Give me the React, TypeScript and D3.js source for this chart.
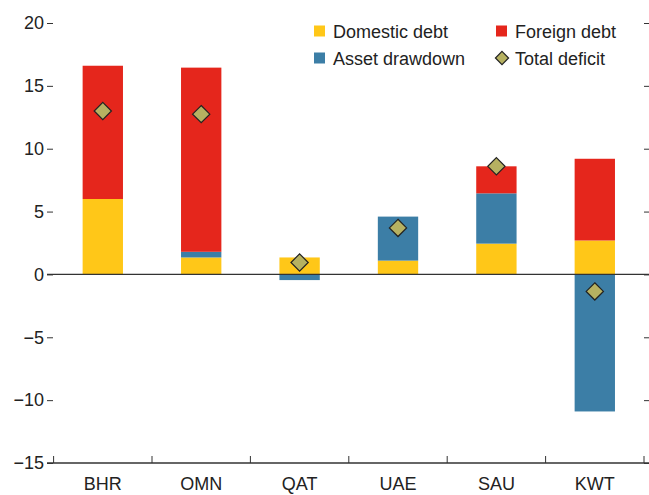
import * as d3 from "d3";
import React, { useEffect, useRef } from "react";

const countries = ["BHR", "OMN", "QAT", "UAE", "SAU", "KWT"];
const domesticDebt = [6.0, 1.35, 1.35, 1.1, 2.45, 2.7];
const assetDrawdown = [0, 0.45, -0.45, 3.5, 4.0, -10.9];
const foreignDebt = [10.6, 14.65, 0, 0, 2.15, 6.5];
const totalDeficit = [13.0, 12.75, 0.95, 3.7, 8.6, -1.35];
const yTicks = [-15, -10, -5, 0, 5, 10, 15, 20];

const W = 649;
const H = 495;
const FONT = "'Liberation Sans', Arial, sans-serif";
const COLORS = { dom: "#FFC718", asset: "#3C7EA6", foreign: "#E5261C", diamond: "#B6B161" };

const App = () => {
  const ref = useRef<HTMLDivElement>(null);

  useEffect(() => {
    const x = d3.scaleBand().domain(countries).range([53.6, 644]).paddingInner(0.59).paddingOuter(0.295);
    const xb = d3.scaleBand().domain(countries).range([53.6, 644]);
    const y = d3.scaleLinear().domain([-15, 20]).range([463, 23]);

    const svg = d3.create("svg")
      .attr("width", W)
      .attr("height", H)
      .style("position", "absolute")
      .style("left", "0px")
      .style("top", "0px")
      .style("font-family", FONT);

    // stacked bars: positives stack up, negatives stack down
    const series = [
      { key: "dom", vals: domesticDebt },
      { key: "asset", vals: assetDrawdown },
      { key: "foreign", vals: foreignDebt },
    ];
    countries.forEach((c, i) => {
      let pos = 0;
      let neg = 0;
      series.forEach(s => {
        const v = s.vals[i];
        if (v === 0) return;
        let y0, y1;
        if (v > 0) { y0 = pos; y1 = pos + v; pos = y1; }
        else { y0 = neg; y1 = neg + v; neg = y1; }
        svg.append("rect")
          .attr("x", x(c)!)
          .attr("width", x.bandwidth())
          .attr("y", y(Math.max(y0, y1)))
          .attr("height", Math.abs(y(y0) - y(y1)))
          .attr("fill", (COLORS as any)[s.key]);
      });
    });

    // zero line
    svg.append("line")
      .attr("x1", 47).attr("x2", W)
      .attr("y1", y(0)).attr("y2", y(0))
      .attr("stroke", "#333").attr("stroke-width", 1.3);

    // left axis
    const left = svg.append("g").attr("transform", "translate(53,0)")
      .call(d3.axisLeft(y).tickValues(yTicks).tickSize(6).tickPadding(3)
        .tickFormat(d => (+d < 0 ? "\u2212" + Math.abs(+d) : String(d))));
    left.select(".domain").remove();
    left.selectAll("line").attr("stroke", "#333");
    left.selectAll("text").attr("font-family", FONT).attr("font-size", 18).attr("fill", "#222");

    // right ticks
    const right = svg.append("g").attr("transform", "translate(644,0)")
      .call(d3.axisRight(y).tickValues(yTicks).tickSize(5).tickFormat(() => ""));
    right.select(".domain").remove();
    right.selectAll("line").attr("stroke", "#333");

    // bottom axis
    svg.append("line")
      .attr("x1", 47).attr("x2", W)
      .attr("y1", y(-15)).attr("y2", y(-15))
      .attr("stroke", "#333").attr("stroke-width", 1.3);
    const bounds = countries.map(c => xb(c)!).concat([xb.range()[1]]);
    svg.selectAll(".ctick").data(bounds).enter().append("line")
      .attr("x1", d => d).attr("x2", d => d)
      .attr("y1", y(-15)).attr("y2", y(-15) - 7)
      .attr("stroke", "#333");
    svg.selectAll(".clabel").data(countries).enter().append("text")
      .attr("x", d => xb(d)! + xb.bandwidth() / 2)
      .attr("y", 490)
      .attr("text-anchor", "middle")
      .attr("font-size", 18)
      .attr("fill", "#222")
      .text(d => d);

    // total deficit diamonds
    const diamond = d3.symbol().type(d3.symbolDiamond2).size(190);
    svg.selectAll(".dia").data(totalDeficit).enter().append("path")
      .attr("d", diamond()!)
      .attr("transform", (d, i) => `translate(${x(countries[i])! + x.bandwidth() / 2},${y(d)})`)
      .attr("fill", COLORS.diamond)
      .attr("stroke", "#222")
      .attr("stroke-width", 1.2);

    // legend
    const legend = [
      { label: "Domestic debt", key: "dom", lx: 314, ly: 31 },
      { label: "Asset drawdown", key: "asset", lx: 314, ly: 58 },
      { label: "Foreign debt", key: "foreign", lx: 496, ly: 31 },
    ];
    legend.forEach(l => {
      svg.append("rect").attr("x", l.lx).attr("y", l.ly - 5.5).attr("width", 11).attr("height", 11)
        .attr("fill", (COLORS as any)[l.key]);
      svg.append("text").attr("x", l.lx + 19).attr("y", l.ly + 6.5)
        .attr("font-size", 18).attr("fill", "#222").text(l.label);
    });
    svg.append("path")
      .attr("d", d3.symbol().type(d3.symbolDiamond2).size(110)()!)
      .attr("transform", "translate(502,58)")
      .attr("fill", COLORS.diamond).attr("stroke", "#222").attr("stroke-width", 1.2);
    svg.append("text").attr("x", 515).attr("y", 64.5)
      .attr("font-size", 18).attr("fill", "#222").text("Total deficit");

    if (ref.current) {
      ref.current.innerHTML = "";
      ref.current.appendChild(svg.node()!);
    }
  }, []);

  return <div ref={ref}></div>;
};

export default App;
